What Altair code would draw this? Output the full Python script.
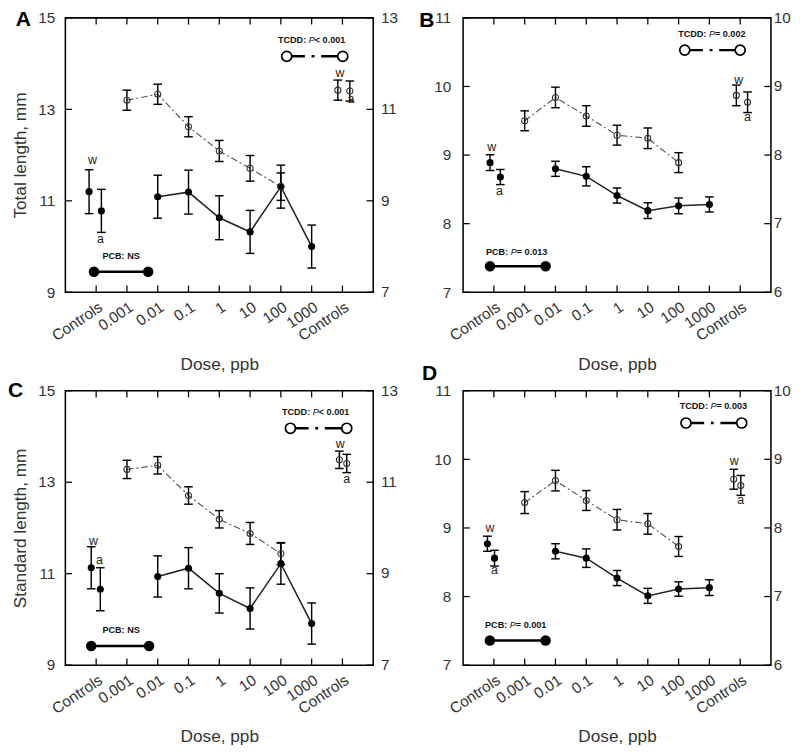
import altair as alt
import pandas as pd

FONT = "Liberation Sans"
W, H = 322, 287

# ---------------- shared categories ----------------
tick_pos = [1, 2, 3, 4, 5, 6, 7, 8, 9]
tick_labels = ["Controls", "0.001", "0.01", "0.1", "1", "10", "100", "1000", "Controls"]
pcb_dose_x = [3, 4, 5, 6, 7, 8]      # 0.01 ... 1000 ppb
tcdd_dose_x = [2, 3, 4, 5, 6, 7]     # 0.001 ... 100 ppb

# ---------------- Panel A: Total length ----------------
A_pcb_mean = [11.09, 11.19, 10.63, 10.32, 11.31, 10.00]
A_pcb_err = [0.47, 0.48, 0.48, 0.47, 0.47, 0.47]
A_tcdd_mean = [13.20, 13.33, 12.62, 12.09, 11.71, 11.31]
A_tcdd_err = [0.22, 0.22, 0.22, 0.23, 0.28, 0.30]
A_pcb_ctrl_x = [0.77, 1.17]
A_pcb_ctrl_mean = [11.20, 10.78]
A_pcb_ctrl_err = [0.48, 0.47]
A_tcdd_ctrl_x = [8.85, 9.24]
A_tcdd_ctrl_mean = [13.42, 13.40]
A_tcdd_ctrl_err = [0.22, 0.22]
A_lab_text = ["w", "a", "w", "a"]
A_lab_x = [0.88, 1.14, 8.92, 9.28]
A_lab_y = [11.88, 10.16, 13.80, 13.23]

# ---------------- Panel B ----------------
B_pcb_mean = [8.80, 8.69, 8.41, 8.19, 8.26, 8.28]
B_pcb_err = [0.11, 0.14, 0.11, 0.115, 0.115, 0.11]
B_tcdd_mean = [9.50, 9.84, 9.57, 9.29, 9.245, 8.89]
B_tcdd_err = [0.145, 0.15, 0.15, 0.145, 0.15, 0.145]
B_pcb_ctrl_x = [0.875, 1.21]
B_pcb_ctrl_mean = [8.89, 8.68]
B_pcb_ctrl_err = [0.115, 0.11]
B_tcdd_ctrl_x = [8.875, 9.24]
B_tcdd_ctrl_mean = [9.87, 9.77]
B_tcdd_ctrl_err = [0.15, 0.15]
B_lab_text = ["w", "a", "w", "a"]
B_lab_x = [0.93, 1.18, 8.95, 9.24]
B_lab_y = [9.12, 8.48, 10.09, 9.55]

# ---------------- Panel C: Standard length ----------------
C_pcb_mean = [10.94, 11.12, 10.57, 10.24, 11.22, 9.91]
C_pcb_err = [0.45, 0.45, 0.43, 0.45, 0.45, 0.45]
C_tcdd_mean = [13.28, 13.37, 12.71, 12.19, 11.88, 11.44]
C_tcdd_err = [0.20, 0.19, 0.19, 0.19, 0.24, 0.24]
C_pcb_ctrl_x = [0.84, 1.135]
C_pcb_ctrl_mean = [11.13, 10.66]
C_pcb_ctrl_err = [0.46, 0.47]
C_tcdd_ctrl_x = [8.90, 9.14]
C_tcdd_ctrl_mean = [13.49, 13.41]
C_tcdd_ctrl_err = [0.19, 0.20]
C_lab_text = ["w", "a", "w", "a"]
C_lab_x = [0.91, 1.11, 8.93, 9.14]
C_lab_y = [11.72, 11.29, 13.83, 13.07]

# ---------------- Panel D ----------------
D_pcb_mean = [8.66, 8.56, 8.27, 8.01, 8.11, 8.13]
D_pcb_err = [0.11, 0.135, 0.11, 0.11, 0.105, 0.115]
D_tcdd_mean = [9.37, 9.69, 9.40, 9.12, 9.06, 8.73]
D_tcdd_err = [0.16, 0.15, 0.145, 0.15, 0.15, 0.145]
D_pcb_ctrl_x = [0.79, 1.02]
D_pcb_ctrl_mean = [8.77, 8.56]
D_pcb_ctrl_err = [0.11, 0.115]
D_tcdd_ctrl_x = [8.79, 9.02]
D_tcdd_ctrl_mean = [9.71, 9.62]
D_tcdd_ctrl_err = [0.145, 0.145]
D_lab_text = ["w", "a", "w", "a"]
D_lab_x = [0.87, 1.02, 8.81, 9.02]
D_lab_y = [9.00, 8.38, 9.98, 9.40]

# legend annotations: [x0, x1, y_line, x_text, y_text]
A_pcb_leg = [0.93, 2.69, 9.45, 1.81, 9.80]
A_tcdd_leg = [7.19, 9.01, 14.16, 8.04, 14.52]
B_pcb_leg = [0.875, 2.68, 7.38, 1.78, 7.58]
B_tcdd_leg = [7.20, 9.00, 10.53, 8.12, 10.77]
C_pcb_leg = [0.84, 2.72, 9.42, 1.81, 9.76]
C_tcdd_leg = [7.31, 9.14, 14.18, 8.17, 14.54]
D_pcb_leg = [0.87, 2.68, 7.36, 1.75, 7.59]
D_tcdd_leg = [7.24, 9.05, 10.53, 8.17, 10.77]

A_pcb_txt = [("PCB: NS", "bold")]
A_tcdd_txt = [("TCDD: ", "bold"), ("P", "italic"), (" < 0.001", "bold")]
B_pcb_txt = [("PCB: ", "bold"), ("P", "italic"), (" = 0.013", "bold")]
B_tcdd_txt = [("TCDD: ", "bold"), ("P", "italic"), (" = 0.002", "bold")]
C_pcb_txt = [("PCB: NS", "bold")]
C_tcdd_txt = [("TCDD: ", "bold"), ("P", "italic"), (" < 0.001", "bold")]
D_pcb_txt = [("PCB: ", "bold"), ("P", "italic"), (" = 0.001", "bold")]
D_tcdd_txt = [("TCDD: ", "bold"), ("P", "italic"), (" = 0.003", "bold")]

LEG_FS = 9.5
_widths = {"T": .611, "C": .722, "D": .722, ":": .333, " ": .278, "P": .667, "B": .722,
           "<": .584, "=": .584, ".": .278, "N": .722, "S": .667}


def text_w(s):
    return sum(_widths.get(ch, .556) for ch in s) * LEG_FS


def panel(letter, let_dx, let_dy, ytitle, ldom, lticks, rticks, roff, lpad, rpad, title_y,
          pcb_m, pcb_e, tcdd_m, tcdd_e, pcx, pcm, pce, tcx, tcm, tce,
          lab_t, lab_x, lab_y, pleg, tleg, ptxt, ttxt):
    xs = alt.Scale(domain=[0, 10], nice=False, zero=False)
    ys = alt.Scale(domain=ldom, nice=False, zero=False)
    label_expr = "[''," + ",".join("'%s'" % t for t in tick_labels) + "][datum.value]"
    xax = alt.Axis(values=tick_pos, labelExpr=label_expr, labelAngle=326, labelAlign="right",
                   labelBaseline="top", labelPadding=7, labelFontSize=16, labelColor="#333",
                   labelFont=FONT, labelOverlap=False, labelBound=False, ticks=False,
                   domain=False, grid=False, title="Dose, ppb",
                   titleFontSize=18, titleFont=FONT, titleFontWeight="normal", titleColor="#333",
                   titleY=title_y, titleBaseline="top")
    yax = alt.Axis(orient="left", values=lticks, labelFontSize=16, labelColor="#333",
                   labelFont=FONT, labelPadding=lpad, labelOverlap=False, ticks=False,
                   domain=False, grid=False,
                   title=ytitle, titleFontSize=18, titleFont=FONT,
                   titleFontWeight="normal", titleColor="#333", titlePadding=9)

    def X(f):
        return alt.X(f, type="quantitative", scale=xs, axis=xax)

    def Y(f):
        return alt.Y(f, type="quantitative", scale=ys, axis=yax)

    ticks_df = pd.DataFrame({"p": tick_pos})
    lt_df = pd.DataFrame({"v": lticks})
    # right-hand axis: its tick values sit at (value + offset) on the left scale
    rt_df = pd.DataFrame({"lab": [str(v) for v in rticks], "v": [v + roff for v in rticks]})

    layers = []
    rule = dict(color="black", strokeWidth=1.3)
    layers.append(alt.Chart(ticks_df).mark_rule(**rule).encode(
        x=X("p:Q"), y=alt.value(H), y2=alt.value(H - 7)))
    layers.append(alt.Chart(ticks_df).mark_rule(**rule).encode(
        x=X("p:Q"), y=alt.value(0), y2=alt.value(7)))
    layers.append(alt.Chart(lt_df).mark_rule(**rule).encode(
        y=Y("v:Q"), x=alt.value(0), x2=alt.value(7)))
    layers.append(alt.Chart(rt_df).mark_rule(**rule).encode(
        y=Y("v:Q"), x=alt.value(W - 7), x2=alt.value(W)))
    layers.append(alt.Chart(rt_df).mark_text(align="left", baseline="middle", fontSize=16,
                                             font=FONT, color="#333").encode(
        y=Y("v:Q"), x=alt.value(W + rpad), text="lab:N"))

    pcb_df = pd.DataFrame({"x": pcb_dose_x, "m": pcb_m, "e": pcb_e})
    tcdd_df = pd.DataFrame({"x": tcdd_dose_x, "m": tcdd_m, "e": tcdd_e})
    pcb_all = pd.concat([pcb_df, pd.DataFrame({"x": pcx, "m": pcm, "e": pce})])
    tcdd_all = pd.concat([tcdd_df, pd.DataFrame({"x": tcx, "m": tcm, "e": tce})])
    for d in (pcb_all, tcdd_all):
        d["lo"] = d["m"] - d["e"]
        d["hi"] = d["m"] + d["e"]

    layers.append(alt.Chart(tcdd_df).mark_line(color="#555", strokeWidth=1.2,
                                               strokeDash=[7, 3, 2, 3]).encode(
        x=X("x:Q"), y=Y("m:Q")))
    layers.append(alt.Chart(pcb_df).mark_line(color="#222", strokeWidth=1.6).encode(
        x=X("x:Q"), y=Y("m:Q")))
    for d in (pcb_all, tcdd_all):
        layers.append(alt.Chart(d).mark_rule(color="black", strokeWidth=1.5).encode(
            x=X("x:Q"), y=Y("lo:Q"), y2="hi:Q"))
        for f in ("lo", "hi"):
            layers.append(alt.Chart(d).mark_tick(color="black", orient="horizontal", size=9,
                                                 thickness=1.5, opacity=1).encode(
                x=X("x:Q"), y=Y(f + ":Q")))
    layers.append(alt.Chart(pcb_all).mark_circle(color="black", size=55, opacity=1).encode(
        x=X("x:Q"), y=Y("m:Q")))
    layers.append(alt.Chart(tcdd_all).mark_point(shape="circle", color="#333", size=40,
                                                 strokeWidth=1.1, opacity=1).encode(
        x=X("x:Q"), y=Y("m:Q")))
    lab_df = pd.DataFrame({"x": lab_x, "y": lab_y, "t": lab_t})
    layers.append(alt.Chart(lab_df).mark_text(fontSize=13, font=FONT, color="#222",
                                              baseline="middle").encode(
        x=X("x:Q"), y=Y("y:Q"), text="t:N"))

    # legends
    pl = pd.DataFrame({"x0": [pleg[0]], "x1": [pleg[1]], "y": [pleg[2]]})
    layers.append(alt.Chart(pl).mark_rule(color="black", strokeWidth=2.5).encode(
        x=X("x0:Q"), x2="x1:Q", y=Y("y:Q")))
    pc = pd.DataFrame({"x": [pleg[0], pleg[1]], "y": [pleg[2], pleg[2]]})
    layers.append(alt.Chart(pc).mark_circle(color="black", size=120, opacity=1).encode(
        x=X("x:Q"), y=Y("y:Q")))
    tl = pd.DataFrame({"x0": [tleg[0]], "x1": [tleg[1]], "y": [tleg[2]]})
    layers.append(alt.Chart(tl).mark_rule(color="black", strokeWidth=2.5,
                                          strokeDash=[19, 7, 3, 7]).encode(
        x=X("x0:Q"), x2="x1:Q", y=Y("y:Q")))
    tc = pd.DataFrame({"x": [tleg[0], tleg[1]], "y": [tleg[2], tleg[2]]})
    layers.append(alt.Chart(tc).mark_point(shape="circle", fill="white", stroke="black",
                                           filled=True, strokeWidth=1.8, size=110, opacity=1).encode(
        x=X("x:Q"), y=Y("y:Q")))
    for parts, tx, ty in ((ptxt, pleg[3], pleg[4]), (ttxt, tleg[3], tleg[4])):
        total = sum(text_w(p) for p, _ in parts)
        off = -total / 2
        for p, style in parts:
            df = pd.DataFrame({"x": [tx], "y": [ty], "t": [p]})
            layers.append(alt.Chart(df).mark_text(
                align="left", baseline="middle", dx=off, fontSize=LEG_FS, font=FONT,
                fontWeight="bold" if style == "bold" else "normal",
                fontStyle="italic" if style == "italic" else "normal", color="#111",
            ).encode(x=X("x:Q"), y=Y("y:Q"), text="t:N"))
            off += text_w(p)

    let_df = pd.DataFrame({"t": [letter]})
    layers.append(alt.Chart(let_df).mark_text(fontSize=22, fontWeight="bold", font=FONT,
                                              color="black", align="center",
                                              baseline="middle").encode(
        x=alt.value(let_dx), y=alt.value(let_dy), text="t:N"))

    return alt.layer(*layers).properties(width=W, height=H)


pA = panel("A", -44, 2, "Total length, mm", [9, 15], [9, 11, 13, 15], [7, 9, 11, 13], 2, 11, 8, 67,
           A_pcb_mean, A_pcb_err, A_tcdd_mean, A_tcdd_err,
           A_pcb_ctrl_x, A_pcb_ctrl_mean, A_pcb_ctrl_err,
           A_tcdd_ctrl_x, A_tcdd_ctrl_mean, A_tcdd_ctrl_err,
           A_lab_text, A_lab_x, A_lab_y, A_pcb_leg, A_tcdd_leg, A_pcb_txt, A_tcdd_txt)
pB = panel("B", -38, 3, None, [7, 11], [7, 8, 9, 10, 11], [6, 7, 8, 9, 10], 1, 13, 3, 67,
           B_pcb_mean, B_pcb_err, B_tcdd_mean, B_tcdd_err,
           B_pcb_ctrl_x, B_pcb_ctrl_mean, B_pcb_ctrl_err,
           B_tcdd_ctrl_x, B_tcdd_ctrl_mean, B_tcdd_ctrl_err,
           B_lab_text, B_lab_x, B_lab_y, B_pcb_leg, B_tcdd_leg, B_pcb_txt, B_tcdd_txt)
pC = panel("C", -52, 0, "Standard length, mm", [9, 15], [9, 11, 13, 15], [7, 9, 11, 13], 2, 11, 8, 66,
           C_pcb_mean, C_pcb_err, C_tcdd_mean, C_tcdd_err,
           C_pcb_ctrl_x, C_pcb_ctrl_mean, C_pcb_ctrl_err,
           C_tcdd_ctrl_x, C_tcdd_ctrl_mean, C_tcdd_ctrl_err,
           C_lab_text, C_lab_x, C_lab_y, C_pcb_leg, C_tcdd_leg, C_pcb_txt, C_tcdd_txt)
pD = panel("D", -35, -18, None, [7, 11], [7, 8, 9, 10, 11], [6, 7, 8, 9, 10], 1, 13, 3, 66,
           D_pcb_mean, D_pcb_err, D_tcdd_mean, D_tcdd_err,
           D_pcb_ctrl_x, D_pcb_ctrl_mean, D_pcb_ctrl_err,
           D_tcdd_ctrl_x, D_tcdd_ctrl_mean, D_tcdd_ctrl_err,
           D_lab_text, D_lab_x, D_lab_y, D_pcb_leg, D_tcdd_leg, D_pcb_txt, D_tcdd_txt)

chart = alt.concat(pA, pB, pC, pD, columns=2, spacing={"row": 103, "column": 94},
                   bounds="flush").properties(
    padding={"left": -1, "top": -17, "right": 0, "bottom": 0}
).configure(font=FONT, background="white").configure_view(stroke="black", strokeWidth=1.6)

chart.save("out.html", embed_options={"renderer": "svg", "actions": False})
